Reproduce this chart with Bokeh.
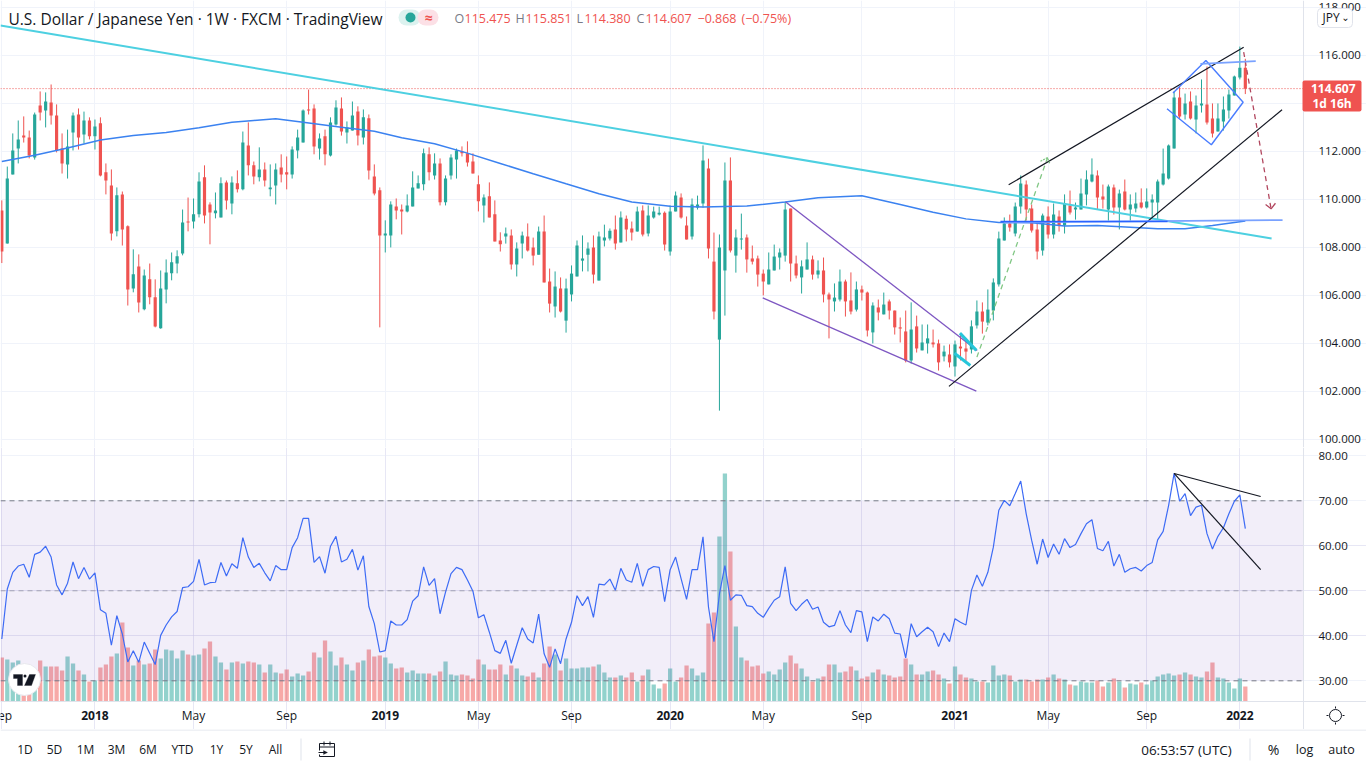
from bokeh.plotting import figure
from bokeh.layouts import column
from bokeh.embed import file_html
from bokeh.resources import INLINE
from bokeh.models import (Range1d, FixedTicker, LinearAxis, Grid, Label, BoxAnnotation,
                          PolyAnnotation, NumeralTickFormatter)

opens = [109.53,108.15,111.03,112.11,112.65,112.57,111.74,113.90,113.70,114.03,113.49,112.11,111.45,112.78,113.53,112.70,113.28,112.62,113.16,111.12,
110.57,108.66,110.20,108.87,106.28,107.20,105.41,106.66,105.91,104.62,106.24,106.91,107.32,107.74,109.07,109.07,109.37,110.91,109.78,109.41,
109.24,110.70,109.82,110.66,110.41,112.24,111.41,110.91,111.24,110.41,110.57,111.32,111.12,111.03,112.03,112.36,113.74,113.78,112.11,112.62,
111.82,113.11,113.78,112.78,112.86,113.65,112.57,113.37,110.95,110.37,108.49,108.49,109.70,109.57,109.49,109.70,110.45,110.62,111.87,110.99,
111.49,109.87,110.99,111.65,111.99,111.91,111.57,110.62,109.74,110.12,109.37,108.28,108.45,108.49,107.28,108.15,108.45,107.99,107.69,108.65,
106.57,105.53,106.28,104.94,106.03,106.78,107.44,107.69,107.99,106.61,108.28,108.36,108.74,108.20,109.19,108.78,108.65,109.53,108.57,109.24,
109.36,109.44,107.82,109.49,110.07,108.90,108.45,109.65,109.82,111.28,107.40,104.15,107.03,110.78,107.65,108.32,108.40,107.53,107.53,106.90,
106.45,107.03,107.57,107.65,109.61,107.32,106.74,107.07,107.49,106.86,107.03,106.03,105.74,105.82,106.57,105.78,105.40,106.24,106.11,104.45,
105.49,105.20,105.74,105.36,104.66,104.49,103.28,104.70,103.70,103.99,104.03,103.99,103.45,103.53,103.03,103.86,103.78,103.74,104.74,105.32,
104.86,105.36,106.45,108.28,108.99,108.57,109.70,110.61,109.61,108.74,107.86,109.28,108.53,109.28,108.90,109.74,109.57,109.57,110.20,110.74,
110.99,110.11,109.57,110.49,109.65,110.32,109.57,109.61,109.86,109.65,109.86,109.86,110.61,110.86,112.11,114.24,113.53,114.07,113.32,113.90,
113.95,113.36,112.82,113.24,113.70,114.32,115.07,115.475]
highs = [109.95,111.36,112.74,113.28,113.45,112.86,113.61,114.49,114.45,114.78,113.95,112.74,112.90,113.61,113.78,113.65,113.41,113.32,113.41,111.49,
111.24,110.49,110.32,108.91,107.91,107.70,107.07,107.32,106.66,107.03,107.49,107.78,107.87,109.57,110.07,110.03,111.12,111.41,109.87,110.28,
110.91,110.78,110.95,111.20,112.82,113.20,111.57,112.16,111.53,111.45,111.49,111.87,111.78,112.20,112.90,113.74,114.57,113.95,112.74,112.90,
113.41,114.12,114.24,113.24,114.07,113.87,113.74,113.53,111.45,110.49,109.12,109.91,110.03,109.78,110.20,111.16,110.99,112.11,112.16,111.91,
111.70,110.99,111.87,112.11,112.20,112.41,111.91,110.99,110.20,110.70,109.95,108.62,108.82,108.74,108.20,108.65,108.99,108.40,108.86,109.32,
107.11,106.99,106.74,106.69,107.24,108.28,108.49,108.20,108.49,108.65,108.94,108.78,109.32,109.49,109.32,109.07,109.69,109.74,109.74,109.69,
109.69,109.49,109.74,110.32,110.24,109.28,110.03,110.15,112.24,111.69,108.61,108.53,111.53,111.74,108.74,109.40,108.53,108.07,107.65,107.07,
107.78,108.11,107.95,109.90,109.61,107.65,107.45,108.20,107.65,107.45,107.57,106.11,106.49,107.07,106.65,106.95,106.57,106.40,106.15,105.70,
105.82,106.11,105.82,105.36,105.07,105.36,105.70,105.15,104.78,104.78,104.57,104.15,103.90,103.95,104.11,104.40,104.07,104.95,105.78,105.70,
106.24,106.70,108.65,109.24,109.36,109.86,110.99,110.78,109.78,108.99,109.40,109.70,109.82,109.53,110.20,110.36,109.86,110.86,111.20,111.70,
111.20,110.61,110.61,110.61,110.40,110.82,110.20,110.28,110.45,110.45,110.20,110.82,112.11,112.28,114.49,114.70,114.40,114.49,114.32,114.99,
115.53,113.99,113.99,114.28,114.57,115.15,116.36,115.851]
lows = [107.34,108.15,111.03,111.49,112.36,111.70,111.65,113.28,112.99,113.11,111.95,111.07,110.86,112.03,112.07,112.32,112.49,112.07,110.95,110.20,
108.28,108.45,108.07,105.57,106.12,105.28,105.37,105.62,104.66,104.60,105.66,106.62,106.91,107.66,108.66,108.78,109.24,108.99,108.12,109.20,
109.24,109.57,109.37,110.28,110.37,110.99,110.62,110.74,110.53,110.12,109.78,110.70,110.41,110.86,111.70,112.36,113.53,111.87,111.65,111.41,
111.78,113.07,112.65,112.32,112.86,112.24,112.28,110.82,110.16,104.66,107.78,107.99,109.16,108.53,109.45,109.70,110.45,110.37,110.78,110.82,
109.74,109.74,110.82,110.86,111.78,111.36,111.07,109.49,109.03,109.24,108.24,107.82,108.15,107.07,106.78,107.53,107.82,107.24,107.69,106.53,
105.28,105.07,105.28,104.44,105.74,106.78,106.99,106.99,106.49,106.61,108.03,108.28,107.90,108.20,108.24,108.28,108.65,108.45,108.45,109.19,
109.32,107.86,107.65,109.49,109.19,108.32,108.32,109.57,109.65,107.53,104.99,101.19,105.15,107.78,106.94,107.90,106.94,107.28,106.36,105.99,
106.45,107.03,107.07,107.40,106.57,106.70,106.07,107.07,106.65,106.70,105.70,104.20,105.32,105.74,105.11,105.20,105.32,105.78,104.28,103.99,
104.95,105.20,104.99,104.36,104.03,103.20,103.15,103.61,103.70,103.57,103.82,102.86,103.24,102.99,102.61,103.28,103.20,103.57,104.61,104.40,
104.74,104.95,106.36,108.28,108.65,108.45,109.40,109.11,108.61,107.49,107.65,108.36,108.36,108.65,108.57,109.36,109.15,109.57,109.74,110.70,
109.57,109.61,109.11,109.36,108.74,109.53,109.11,109.45,109.61,109.61,109.20,109.15,110.57,110.82,112.11,113.36,113.32,113.32,112.74,113.61,
113.11,112.57,112.82,112.86,113.36,114.32,114.99,114.380]
closes = [107.82,110.86,112.03,112.49,112.57,111.82,113.53,113.61,114.07,113.49,112.03,111.49,112.20,113.49,112.57,113.28,112.62,113.03,110.99,110.78,
108.57,110.16,108.74,106.24,106.87,105.70,106.82,105.91,104.70,106.28,106.95,107.37,107.62,109.03,109.03,109.37,110.74,109.32,109.45,109.53,
110.66,109.95,110.70,110.41,112.36,111.41,110.95,111.24,110.78,110.49,111.24,111.03,111.03,112.07,112.57,113.70,113.70,112.20,112.53,111.87,
113.20,113.82,112.82,112.99,113.49,112.65,113.41,111.20,110.24,108.49,108.57,109.78,109.53,109.49,109.74,110.49,110.66,111.91,111.12,111.49,
109.87,110.86,111.74,112.03,111.91,111.53,111.07,109.91,110.07,109.24,108.24,108.12,108.57,107.28,107.95,108.49,107.86,107.65,108.65,106.53,
105.65,106.36,105.32,106.28,106.90,108.07,107.53,107.95,106.86,108.45,108.40,108.69,108.15,109.24,108.74,108.61,109.49,108.53,109.32,109.49,
109.44,108.11,109.49,110.15,109.24,108.32,109.78,109.78,111.61,107.95,105.32,107.99,110.78,107.86,108.40,108.36,107.49,107.40,106.86,106.57,
107.07,107.61,107.78,109.57,107.32,106.82,107.20,107.49,106.86,107.03,106.03,105.82,105.90,106.57,105.74,105.32,106.24,106.11,104.53,105.57,
105.28,105.61,105.36,104.66,104.61,103.28,104.57,103.78,104.03,104.20,103.95,103.20,103.65,103.20,103.95,103.78,103.65,104.70,105.32,104.90,
105.40,106.53,108.36,108.99,108.82,109.70,110.65,109.57,108.70,107.82,109.32,108.53,109.36,108.90,109.82,109.45,109.65,110.24,110.82,111.03,
110.07,109.99,110.53,109.65,110.24,109.57,109.78,109.82,109.65,109.90,109.99,110.74,111.07,112.24,114.24,113.45,113.99,113.36,113.90,113.99,
113.20,112.74,113.36,113.74,114.36,115.11,115.475,114.607]
rsi = [39.3,50.4,54.1,55.5,55.9,53.0,58.1,58.6,59.9,57.5,51.3,49.1,51.7,56.4,52.7,55.2,52.6,54.0,45.8,45.0,
37.9,44.5,40.4,34.2,36.7,34.1,38.6,36.1,33.6,40.1,42.4,44.2,45.4,50.7,50.9,52.1,57.0,51.3,51.8,51.9,
56.3,53.3,56.0,55.0,61.8,57.5,55.2,56.1,54.0,52.2,55.6,54.7,54.7,59.6,61.8,66.1,66.1,56.3,57.6,53.9,
59.9,62.1,56.4,57.0,59.2,54.6,57.8,46.5,42.7,36.4,36.7,43.3,42.4,42.4,43.6,47.7,48.9,55.3,51.2,52.7,
44.9,49.7,53.8,55.2,54.7,52.4,49.9,44.0,44.7,40.8,36.7,36.1,39.0,33.9,37.9,41.8,39.3,38.4,44.8,36.0,
33.0,37.1,33.8,39.3,43.0,48.9,46.7,48.7,44.1,51.5,51.3,52.6,50.1,55.0,52.4,51.9,56.1,51.0,54.7,55.4,
55.2,47.6,54.7,57.5,52.7,48.1,54.7,54.7,62.0,46.4,38.7,49.3,55.6,47.9,49.1,49.0,46.7,46.5,45.0,44.1,
46.1,47.9,48.7,55.3,47.2,45.6,47.0,48.1,45.9,46.4,43.0,42.0,42.3,45.6,42.4,40.7,45.6,45.3,38.7,44.2,
43.3,44.8,43.8,40.6,40.4,35.1,42.7,39.8,40.9,41.9,40.9,37.6,40.6,38.7,43.8,43.0,42.4,50.1,53.5,51.0,
54.1,59.7,67.9,70.1,68.9,71.6,74.4,67.1,61.2,55.9,61.5,57.4,60.4,58.1,61.6,59.6,60.3,62.7,64.9,65.8,
59.4,58.9,61.0,55.5,58.1,54.1,54.9,55.2,54.4,55.6,56.3,61.3,63.2,69.0,76.1,69.9,71.6,66.7,68.6,69.0,
62.7,59.3,62.1,64.0,67.1,69.9,71.3,63.8]
volume = [44,42,39,41,31,27,31,41,35,35,35,31,45,38,31,27,20,21,34,37,
45,48,79,54,36,41,37,38,52,43,52,51,43,51,47,46,47,53,60,45,
39,32,39,40,38,40,39,37,29,37,29,28,32,25,28,26,30,49,44,61,
50,36,44,37,31,39,41,52,45,46,44,38,33,34,29,31,28,28,28,26,
30,40,27,26,27,26,23,42,37,32,32,37,27,36,33,26,25,29,24,38,
55,47,31,43,33,33,34,34,35,37,29,24,24,26,24,29,20,26,32,17,
13,18,33,20,24,36,33,26,29,78,89,165,228,150,75,44,41,35,36,28,
30,27,32,39,46,38,33,25,20,23,25,37,37,29,30,35,31,23,25,29,
32,27,26,24,25,43,37,27,27,30,31,27,23,18,35,27,24,23,20,20,
19,36,26,27,26,20,22,22,20,22,22,24,27,23,22,17,16,20,19,19,
21,15,19,23,20,14,18,17,19,17,21,25,27,28,26,27,29,27,25,24,
30,39,24,23,19,13,23,15]
ma_idx = [0,6,12,18,24,30,36,42,46,50,55,62,68,73,79,85,91,97,103,109,115,122,128,136,143,149,157,164,170,176,182,188,194,200,206,211,216,221,227]
ma_val = [111.57,111.83,112.13,112.47,112.65,112.78,112.98,113.21,113.28,113.35,113.21,113.00,112.83,112.56,112.31,111.92,111.49,111.06,110.64,110.23,109.88,109.71,109.67,109.72,109.88,110.06,110.14,109.78,109.46,109.18,109.03,109.02,108.88,108.90,108.83,108.77,108.77,108.90,109.09]

long_trend_x, long_trend_y = [-0.24,231.8], [117.24,108.36]
wedge_up_x, wedge_up_y = [143.1,178.05], [109.88,103.70]
wedge_lo_x, wedge_lo_y = [138.9,177.9], [105.89,102.00]
break1_x, break1_y = [174.9,177.9], [104.42,103.70]
break2_x, break2_y = [173.9,176.8], [103.58,103.07]
chan_lo_x, chan_lo_y = [172.9,233.7], [102.20,113.73]
chan_up_x, chan_up_y = [183.8,226.7], [110.60,116.33]
up_arrow_x, up_arrow_y = [178.0,190.9], [103.42,111.73]
up_head_x, up_head_y = [189.6,190.9,191.3], [111.58,111.73,111.48]
dn_arrow_x, dn_arrow_y = [226.7,231.7], [116.13,109.60]
dn_head_x, dn_head_y = [230.7,231.7,232.5], [109.78,109.60,109.83]
diamond_x, diamond_y = [213.8,219.8,226.6,220.8,212.7], [114.42,115.78,114.04,112.27,113.77]
top_x, top_y = [218.8,228.9], [115.64,115.75]
base_x, base_y = [182.9,233.8], [109.03,109.13]
base2_x, base2_y = [182.3,212.8], [109.07,109.07]
rsi_line_x, rsi_hi_y, rsi_lo_y = [214,229.8], [76.07,70.96], [76.07,54.7]

price_ticks = [100,102,104,106,108,110,112,114,116,118]
rsi_ticks = [30,40,50,60,70,80]
year_ticks = {17:"2018",70:"2019",122:"2020",174:"2021",226:"2022"}
month_ticks = {0:"Sep",35:"May",52:"Sep",87:"May",104:"Sep",139:"May",157:"Sep",191:"May",209:"Sep"}
last_close = 114.607

GREEN, RED = "#26a69a", "#ef5350"
GRID, LINE = "#f0f3fa", "#e0e3eb"
INK, GREY = "#131722", "#787b86"
FONT = "Open Sans"
XL, XA, XR = -0.24, 237.6, 249.12
W = 1366
PH, RH, TH = 447, 282, 39
all_ticks = sorted(list(year_ticks) + list(month_ticks))
n = len(opens)
idx = list(range(n))
colors = [GREEN if c >= o else RED for o, c in zip(opens, closes)]


def base_fig(height, y_range):
    f = figure(width=W, height=height, x_range=Range1d(XL, XR), y_range=y_range, toolbar_location=None,
               output_backend="svg", x_axis_location=None, y_axis_location=None, min_border=0,
               outline_line_color=None, background_fill_color="white", border_fill_color="white")
    f.grid.visible = False
    return f


def right_axis(f, ticks, fmt):
    ax = LinearAxis(fixed_location=XA, ticker=FixedTicker(ticks=ticks), formatter=NumeralTickFormatter(format=fmt))
    ax.axis_line_color = LINE
    ax.major_tick_line_color = None
    ax.minor_tick_line_color = None
    ax.major_label_text_font = FONT
    ax.major_label_text_font_size = "11.5px"
    ax.major_label_text_color = INK
    ax.major_label_standoff = 9
    f.add_layout(ax, "right")


def lbl(f, fb, x, y, text, color=INK, size=12, style="normal", align="left", font=FONT):
    f.add_layout(Label(x=x, y=fb - y, x_units="screen", y_units="screen", text=text, text_color=color,
                       text_font=font, text_font_size=f"{size}px", text_font_style=style, text_align=align,
                       text_baseline="middle"))


def box(f, fb, l, r, t, b, fill=None, line=None, radius=0, width=1):
    f.add_layout(BoxAnnotation(left=l, right=r, top=fb - t, bottom=fb - b, left_units="screen",
                               right_units="screen", top_units="screen", bottom_units="screen", fill_color=fill,
                               fill_alpha=1 if fill else 0, line_color=line, line_alpha=1 if line else 0,
                               line_width=width, border_radius=radius, level="annotation"))


def poly(f, fb, pts, fill):
    f.add_layout(PolyAnnotation(xs=[p[0] for p in pts], ys=[fb - p[1] for p in pts], xs_units="screen",
                                ys_units="screen", fill_color=fill, fill_alpha=1, line_color=fill,
                                line_width=1, level="annotation"))


# ---- price pane
PY0 = 99.654
price = base_fig(PH, Range1d(PY0, 118.279))
price.add_layout(Grid(dimension=0, ticker=FixedTicker(ticks=all_ticks), grid_line_color=GRID, level="underlay"))
price.add_layout(Grid(dimension=1, ticker=FixedTicker(ticks=price_ticks), grid_line_color=GRID, level="underlay", bounds=(XL, XA)))
right_axis(price, price_ticks, "0.000")
price.segment(idx, lows, idx, highs, color=colors, line_width=1)
tops = [max(o, c) for o, c in zip(opens, closes)]
bots = [min(o, c) for o, c in zip(opens, closes)]
price.vbar(x=idx, top=tops, bottom=bots, width=0.58, fill_color=colors, line_color=None)
price.line(ma_idx, ma_val, color="#3b82f0", line_width=1.5)
price.line([XL, XA], [last_close, last_close], color=RED, line_dash="1 2", line_width=1)
price.line(long_trend_x, long_trend_y, color="#4dd0e1", line_width=2)
price.line(wedge_up_x, wedge_up_y, color="#7e57c2", line_width=1.3)
price.line(wedge_lo_x, wedge_lo_y, color="#7e57c2", line_width=1.3)
price.line(break1_x, break1_y, color="#26c6da", line_width=3)
price.line(break2_x, break2_y, color="#26c6da", line_width=3)
price.line(chan_lo_x, chan_lo_y, color=INK, line_width=1.2)
price.line(chan_up_x, chan_up_y, color=INK, line_width=1.2)
price.line(up_arrow_x, up_arrow_y, color="#81c784", line_width=1.3, line_dash="5 4")
price.line(up_head_x, up_head_y, color="#81c784", line_width=1.3, line_dash="2 1")
price.line(dn_arrow_x, dn_arrow_y, color="#b2475f", line_width=1.3, line_dash="5 4")
price.line(dn_head_x, dn_head_y, color="#b2475f", line_width=1.3)
price.line(diamond_x, diamond_y, color="#4a7dff", line_width=1.4)
price.line(top_x, top_y, color="#7aa2ff", line_width=1.8)
price.line(base_x, base_y, color="#7aa2ff", line_width=1.8)
price.line(base2_x, base2_y, color="#2962ff", line_width=1.4)

FB = PH
lbl(price, FB, 8, 18, "U.S. Dollar / Japanese Yen · 1W · FXCM · TradingView", size=15.5)
box(price, FB, 398, 420, 25, 9, fill="#dcf2ef", radius=8)
box(price, FB, 417, 438, 25, 9, fill="#fce0e6", radius=8)
box(price, FB, 405, 415, 22, 12, fill=GREEN, radius=5)
lbl(price, FB, 428, 17, "≈", color=RED, size=14, style="bold", align="center")
for x, t in [(454, "O"), (515, "H"), (576, "L"), (636, "C")]:
    lbl(price, FB, x, 18, t, color=GREY, size=12.5)
for x, t in [(464, "115.475"), (525, "115.851"), (584, "114.380"), (645, "114.607"), (697, "−0.868"), (741, "(−0.75%)")]:
    lbl(price, FB, x, 18, t, color=RED, size=12.5)
box(price, FB, 1317, 1352, 27, 8, fill="white", line=LINE, radius=4)
lbl(price, FB, 1322, 17, "JPY", size=12)
lbl(price, FB, 1345, 17, "⌄", size=10, align="center", font="DejaVu Sans")
box(price, FB, 1302, 1361, 111, 80, fill=RED, radius=2)
lbl(price, FB, 1355, 88, "114.607", color="white", size=12, style="bold", align="right")
lbl(price, FB, 1312, 103, "1d 16h", color="white", size=12, style="bold")

# ---- RSI / volume pane
AX_Y = 25.4
rp = base_fig(RH, Range1d(19.18, 81.84))
rp.extra_y_ranges = {"vol": Range1d(-28, 254)}
rp.add_layout(Grid(dimension=0, ticker=FixedTicker(ticks=all_ticks), grid_line_color=GRID, level="underlay", bounds=(AX_Y, 81.84)))
rp.add_layout(Grid(dimension=1, ticker=FixedTicker(ticks=rsi_ticks), grid_line_color=GRID, level="underlay", bounds=(XL, XA)))
right_axis(rp, rsi_ticks, "0.00")
rp.vbar(x=idx, top=volume, width=0.78, bottom=0, fill_color=colors, fill_alpha=0.5, line_color=None, y_range_name="vol")
rp.quad(left=[XL], right=[XA], bottom=[rsi_ticks[0]], top=[rsi_ticks[4]], fill_color="#7e57c2", fill_alpha=0.1, line_color=None)
rp.add_layout(Grid(dimension=1, ticker=FixedTicker(ticks=[40, 50, 60]), grid_line_color="#7e57c2", grid_line_alpha=0.08, level="glyph", bounds=(XL, XA)))
rp.add_layout(Grid(dimension=0, ticker=FixedTicker(ticks=all_ticks), grid_line_color="#7e57c2", grid_line_alpha=0.08, level="glyph", bounds=(30, 70)))
rp.line([XL, XA], [70, 70], color=GREY, line_dash="5 4", line_width=1)
rp.line([XL, XA], [50, 50], color=GREY, line_alpha=0.6, line_dash="5 4", line_width=1)
rp.line([XL, XA], [30, 30], color=GREY, line_dash="5 4", line_width=1)
rp.line(idx, rsi, color="#3d6bf5", line_width=1.2)
rp.line(rsi_line_x, rsi_hi_y, color=INK, line_width=1.2)
rp.line(rsi_line_x, rsi_lo_y, color=INK, line_width=1.2)

xax = LinearAxis(fixed_location=AX_Y, ticker=FixedTicker(ticks=list(year_ticks)), major_label_overrides={int(k): v for k, v in year_ticks.items()})
xax.axis_line_color = LINE
xax.major_tick_line_color = None
xax.minor_tick_line_color = None
xax.major_label_text_font = FONT
xax.major_label_text_font_size = "12px"
xax.major_label_text_font_style = "bold"
xax.major_label_text_color = INK
xax.major_label_standoff = 3
rp.add_layout(xax, "below")
RF = PH + RH
for i, t in month_ticks.items():
    rp.add_layout(Label(x=i, y=RF - 715, x_units="data", y_units="screen", text=t, text_color=INK, text_font=FONT,
                        text_font_size="12px", text_align="center", text_baseline="middle"))
box(rp, RF, 8, 40, 695, 663, fill="white", line="#e8e8ee", radius=16)
poly(rp, RF, [(13, 674), (22, 674), (22, 685), (17, 685), (17, 678), (13, 678)], "#131722")
poly(rp, RF, [(29, 674), (35, 674), (31, 685), (24, 685)], "#131722")
box(rp, RF, 23, 26, 677, 674, fill="#131722", radius=2)
box(rp, RF, 1329, 1341, 721, 709, fill="white", line=INK, radius=6)
for a, b in [(1335, 707), (1335, 723)]:
    box(rp, RF, a - 0.5, a + 0.5, b + 1, b - 1, fill=INK)
for a, b in [(1327, 715), (1343, 715)]:
    box(rp, RF, a - 1, a + 1, b + 0.5, b - 0.5, fill=INK)

# ---- bottom bar
bar = figure(width=W, height=TH, x_range=Range1d(0, W), y_range=Range1d(0, TH), toolbar_location=None,
             output_backend="svg", x_axis_location=None, y_axis_location=None, min_border=0,
             outline_line_color=None, background_fill_color="white", border_fill_color="white")
bar.grid.visible = False
BB = PH + RH + TH
box(bar, BB, 0, W, 730, 729, fill=LINE)
for x, t in [(24.5, "1D"), (54, "5D"), (85, "1M"), (116, "3M"), (147.5, "6M"), (182, "YTD"), (216, "1Y"), (245.5, "5Y"), (275, "All")]:
    lbl(bar, BB, x, 749, t, size=12, align="center")
box(bar, BB, 300, 301, 760, 738, fill=LINE)
box(bar, BB, 319, 334, 756, 743, line=INK)
box(bar, BB, 319, 334, 747, 746, fill=INK)
box(bar, BB, 323, 324, 745, 741, fill=INK)
box(bar, BB, 329, 330, 745, 741, fill=INK)
box(bar, BB, 317, 321, 754, 750, fill="white")
box(bar, BB, 318, 326, 752.5, 751.5, fill=INK)
poly(bar, BB, [(323, 750), (327, 752), (323, 754)], INK)
lbl(bar, BB, 1186, 749, "06:53:57 (UTC)", size=13.5, align="center")
box(bar, BB, 1249, 1250, 760, 738, fill=LINE)
lbl(bar, BB, 1273, 749, "%", size=14, align="center")
lbl(bar, BB, 1304, 749, "log", size=12.5, align="center")
lbl(bar, BB, 1341, 749, "auto", size=12.5, align="center")

page = column(price, rp, bar, spacing=0)
open("out.html", "w").write(file_html(page, INLINE))
